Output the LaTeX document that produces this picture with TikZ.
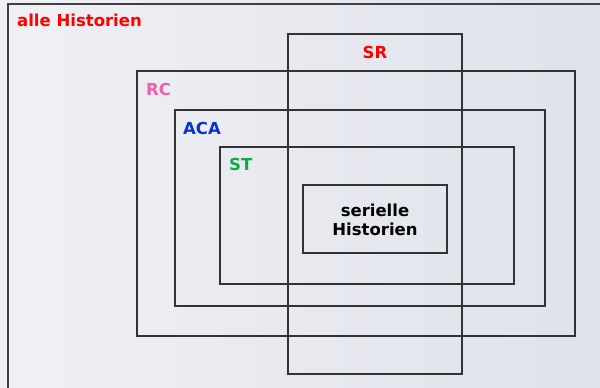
\documentclass[tikz,border=0pt]{standalone}
\usepackage{fontspec}
\setmainfont{DejaVu Sans}
\usepackage{xcolor}
\definecolor{hred}{HTML}{FF0000}
\definecolor{hpink}{HTML}{EE5FAE}
\definecolor{hblue}{HTML}{0A33C8}
\definecolor{hgreen}{HTML}{10A848}
\definecolor{bgA}{HTML}{F0F1F5}
\definecolor{bgB}{HTML}{DFE2EA}

\begin{document}
\begin{tikzpicture}[x=1pt,y=-1pt]
  \tikzset{font={\fontsize{16.5pt}{19pt}\selectfont\bfseries},
    setbox/.style={draw=black!80,line width=1.2pt},
    setlabel/.style={anchor=west,inner sep=0pt}}
  \useasboundingbox (0,0) rectangle (600,388);
  \shade[left color=bgA,right color=bgB] (0,0) rectangle (600,388);
  % outer frame (open to the right and bottom)
  \draw[black!75,line width=2pt] (600,4)--(8,4)--(8,388);
  % the sets
  \draw[setbox] (137,71) rectangle (575,336);
  \draw[setbox] (175,110) rectangle (545,306);
  \draw[setbox] (220,147) rectangle (514,284);
  \draw[setbox] (288,34) rectangle (462,374);
  \draw[setbox] (303,185) rectangle (447,253);
  \node[setlabel,text=hred] (alle) at (17,20) {alle Historien};
  \node[text=hred,inner sep=0pt] (sr) at (375,52) {SR};
  \node[setlabel,text=hpink] (rc) at (146,89) {RC};
  \node[setlabel,text=hblue] (aca) at (183,128) {ACA};
  \node[setlabel,text=hgreen] (st) at (229,164) {ST};
  \node[align=center,inner sep=0pt] (ser) at (375,220)
    {serielle\\Historien};
\end{tikzpicture}
\end{document}
